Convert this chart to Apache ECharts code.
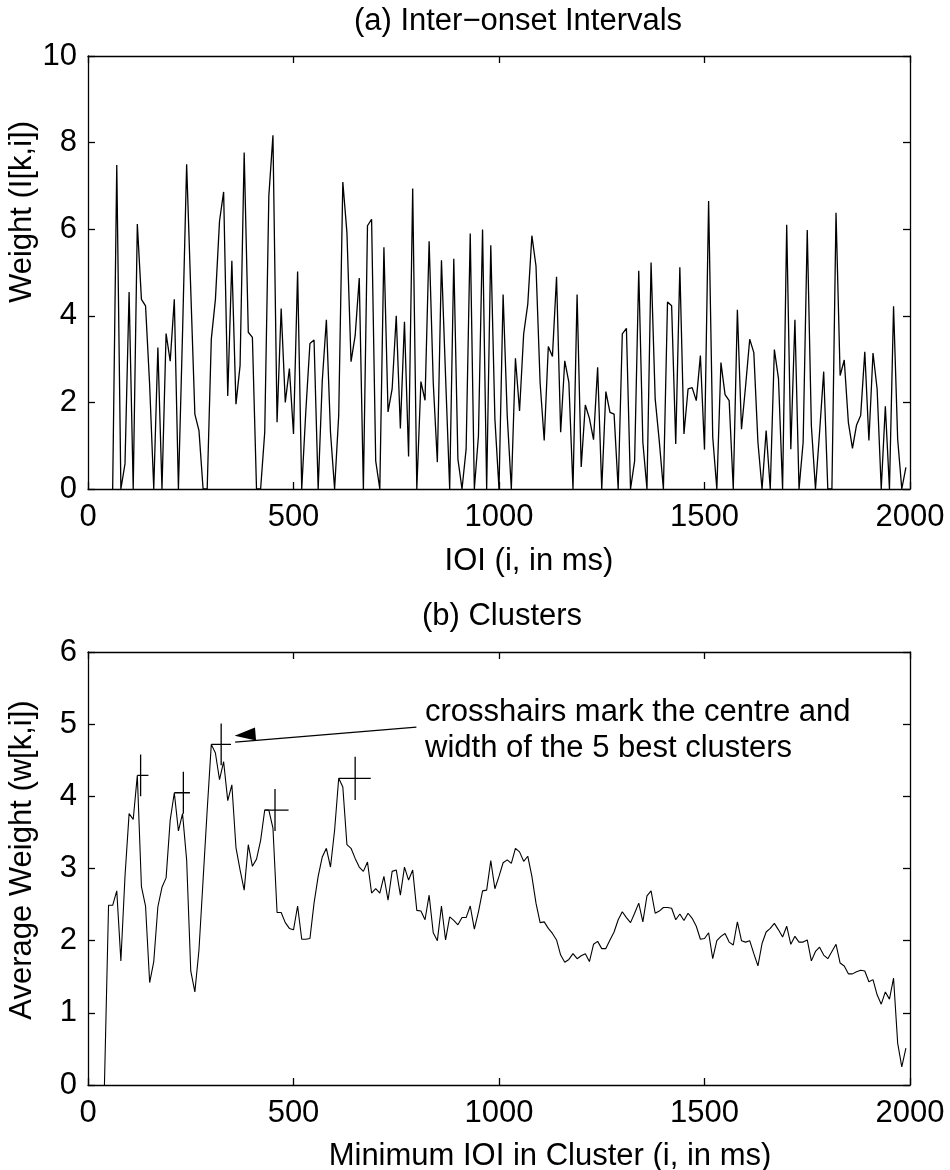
<!DOCTYPE html>
<html><head><meta charset="utf-8">
<script src="https://cdn.jsdelivr.net/npm/echarts@6/dist/echarts.min.js"></script>
<style>html,body{margin:0;padding:0;background:#fff}#c{width:950px;height:1170px}</style>
</head><body><div id="c"></div>
<script>
// ---------- data ----------
const xTicks = [0, 500, 1000, 1500, 2000];
const ioiStart = 60, ioiStep = 10;           // ms of first sample, sample spacing
const ioiWeights = [
  0,7.48,0,0.58,4.55,0,6.12,4.38,4.23,2.4,
  0,3.27,0,3.59,2.95,4.38,0,3.6,7.5,4.6,
  1.73,1.35,0,0,3.46,4.38,6.19,6.86,2.15,5.27,
  1.96,2.85,7.77,3.62,3.5,0,0,1.31,6.77,8.17,
  1.54,4.17,2.0,2.78,1.27,5.02,0,1.8,3.36,3.44,
  0,2.5,3.91,1.31,0,1.7,7.09,5.92,2.94,3.54,
  4.87,0,6.08,6.23,0.65,0,5.58,1.78,2.31,4.0,
  1.4,3.86,0.75,6.94,0,2.48,2.05,5.72,2.46,0.62,
  5.28,2.6,0,5.32,0.69,0,0.92,5.9,0,1.23,
  5.99,0,5.63,1.62,0,4.49,1.7,0,3.02,1.8,
  3.58,4.27,5.85,5.15,2.46,1.12,3.29,3.06,4.9,1.31,
  2.96,2.46,0,4.49,0.51,1.94,1.63,1.14,2.81,0,
  2.25,1.77,1.73,0,3.58,3.71,0,0.65,5.04,1.08,
  0,5.23,2.08,1.1,0,4.32,4.23,1.04,5.12,1.27,
  2.31,2.34,2.04,3.08,0.91,6.65,1.2,0,2.92,2.18,
  2.04,0,4.14,1.38,2.38,3.46,3.15,1.08,0,1.35,
  0,3.22,2.55,0,6.1,0.92,3.91,0,1.08,5.98,
  1.46,0,1.31,2.71,0,0,6.38,2.62,2.98,1.54,
  0.94,1.48,1.7,3.17,1.12,3.14,2.31,0,1.91,0,
  4.22,1.15,0,0.5
];
const clusterStart = 40, clusterStep = 10;
const clusterWeights = [
  0,2.49,2.49,2.69,1.72,2.89,3.76,3.68,4.29,2.75,
  2.48,1.42,1.71,2.47,2.74,2.87,3.67,4.05,3.52,3.76,
  3.12,1.58,1.29,1.87,2.84,3.81,4.72,4.60,4.23,4.48,
  3.94,4.16,3.29,2.98,2.70,3.33,3.03,3.13,3.39,3.81,
  3.81,3.56,2.39,2.39,2.25,2.17,2.15,2.48,2.02,2.02,
  2.03,2.52,2.89,3.16,3.28,3.02,3.53,4.25,4.13,3.33,
  3.28,3.14,3.02,2.96,3.09,2.66,2.72,2.66,2.89,2.56,
  2.96,2.98,2.63,3.02,2.84,2.98,2.42,2.41,2.29,2.63,
  2.11,2.00,2.48,2.01,2.33,2.28,2.22,2.32,2.32,2.48,
  2.16,2.40,2.69,2.70,3.11,2.72,2.89,3.08,3.12,3.07,
  3.28,3.23,3.10,3.17,2.89,2.52,2.25,2.26,2.17,2.10,
  2.01,1.80,1.70,1.74,1.82,1.75,1.79,1.82,1.71,1.95,
  1.99,1.89,1.89,2.01,2.12,2.29,2.40,2.32,2.25,2.38,
  2.52,2.26,2.62,2.69,2.38,2.41,2.46,2.46,2.45,2.29,
  2.37,2.28,2.38,2.31,2.20,2.02,2.03,2.11,1.75,2.00,
  2.06,2.10,1.98,1.94,2.26,2.00,1.98,2.00,1.82,1.65,
  1.96,2.12,2.17,2.24,2.15,2.05,2.20,1.95,2.06,1.98,
  1.98,2.01,1.72,1.85,1.91,1.80,1.75,1.85,1.95,1.69,
  1.65,1.54,1.54,1.57,1.59,1.58,1.43,1.46,1.25,1.12,
  1.29,1.19,1.48,0.58,0.25,0.51
];
// five best clusters: centre, horizontal extent, level, vertical half-height
const crossCentre = [128, 232, 324, 455, 650];
const crossLeft   = [120, 210, 300, 430, 610];
const crossRight  = [147, 248, 348, 488, 688];
const crossLevel  = [4.29, 4.05, 4.72, 3.81, 4.25];
const crossHalf   = [0.29, 0.29, 0.29, 0.29, 0.30];
// annotation arrow (data coords: from text to tip)
const arrowFrom = [799, 4.96];
const arrowTo   = [358, 4.75];
const noteLines = ['crosshairs mark the centre and', 'width of the 5 best clusters'];
const titleA = '(a) Inter\u2212onset Intervals', xNameA = 'IOI (i, in ms)', yNameA = 'Weight (I[k,i])';
const titleB = '(b) Clusters', xNameB = 'Minimum IOI in Cluster (i, in ms)', yNameB = 'Average Weight (w[k,i])';

// ---------- build ----------
const FONT = '"Liberation Sans", Arial, Helvetica, sans-serif';
const FS = 31;
const ioiData = ioiWeights.map((v, i) => [ioiStart + i * ioiStep, v]);
const clusterData = clusterWeights.map((v, i) => [clusterStart + i * clusterStep, v]);
const crossData = [];
crossCentre.forEach((c, i) => {
  crossData.push([crossLeft[i], crossLevel[i]], [crossRight[i], crossLevel[i]], '-');
  crossData.push([c, crossLevel[i] - crossHalf[i]], [c, crossLevel[i] + crossHalf[i]], '-');
});

const axisLine = {show: true, onZero: false, lineStyle: {color: '#000', width: 1.3}};
const axisTick = {show: true, inside: true, length: 7, lineStyle: {color: '#000', width: 1.3}};
function xAx(grid, pos, lab) {
  return {type: 'value', gridIndex: grid, position: pos, min: 0, max: 2000, interval: 500,
    axisLine, axisTick, splitLine: {show: false},
    axisLabel: {show: lab, color: '#000', fontSize: FS, fontFamily: FONT, margin: 13,
      formatter: v => xTicks.includes(v) ? String(v) : ''}};
}
function yAx(grid, pos, max, lab) {
  return {type: 'value', gridIndex: grid, position: pos, min: 0, max: max, interval: max === 10 ? 2 : 1,
    axisLine, axisTick, splitLine: {show: false},
    axisLabel: {show: lab, color: '#000', fontSize: FS, fontFamily: FONT, margin: 11}};
}
function txt(text, x, y, opts) {
  return Object.assign({type: 'text', x: x, y: y, silent: true,
    style: {text: text, fill: '#000', font: FS + 'px ' + FONT, align: 'center', verticalAlign: 'middle'}}, opts || {});
}

const chart = echarts.init(document.getElementById('c'), null, {renderer: 'canvas'});
chart.setOption({
  animation: false,
  backgroundColor: '#fff',
  grid: [
    {left: 88, top: 56, width: 822, height: 433},
    {left: 88, top: 652, width: 822, height: 433}
  ],
  xAxis: [xAx(0, 'bottom', true), xAx(0, 'top', false), xAx(1, 'bottom', true), xAx(1, 'top', false)],
  yAxis: [yAx(0, 'left', 10, true), yAx(0, 'right', 10, false), yAx(1, 'left', 6, true), yAx(1, 'right', 6, false)],
  series: [
    {type: 'line', xAxisIndex: 0, yAxisIndex: 0, data: ioiData, showSymbol: false, silent: true,
      lineStyle: {color: '#000', width: 1.3}},
    {type: 'line', xAxisIndex: 2, yAxisIndex: 2, data: clusterData, showSymbol: false, silent: true,
      lineStyle: {color: '#000', width: 1.1}},
    {type: 'line', xAxisIndex: 2, yAxisIndex: 2, data: crossData, showSymbol: false, silent: true,
      connectNulls: false, lineStyle: {color: '#000', width: 1.3},
      markLine: {silent: true, symbol: ['none', 'triangle'], symbolSize: [13, 21], symbolOffset: [0, '50%'],
        lineStyle: {color: '#000', width: 1.2, type: 'solid'}, label: {show: false},
        data: [[{coord: arrowFrom}, {coord: arrowTo}]]}}
  ],
  graphic: [
    txt(titleA, 518, 21.5),
    txt(xNameA, 529, 561),
    txt(yNameA, 22.6, 212, {rotation: Math.PI / 2}),
    txt(titleB, 502, 616),
    txt(xNameB, 550, 1156.7),
    txt(yNameB, 22.6, 860, {rotation: Math.PI / 2}),
    txt(noteLines[0], 425, 712.6, {style: {text: noteLines[0], fill: '#000', font: FS + 'px ' + FONT, align: 'left', verticalAlign: 'middle'}}),
    txt(noteLines[1], 425, 748.6, {style: {text: noteLines[1], fill: '#000', font: FS + 'px ' + FONT, align: 'left', verticalAlign: 'middle'}})
  ]
});
</script></body></html>
